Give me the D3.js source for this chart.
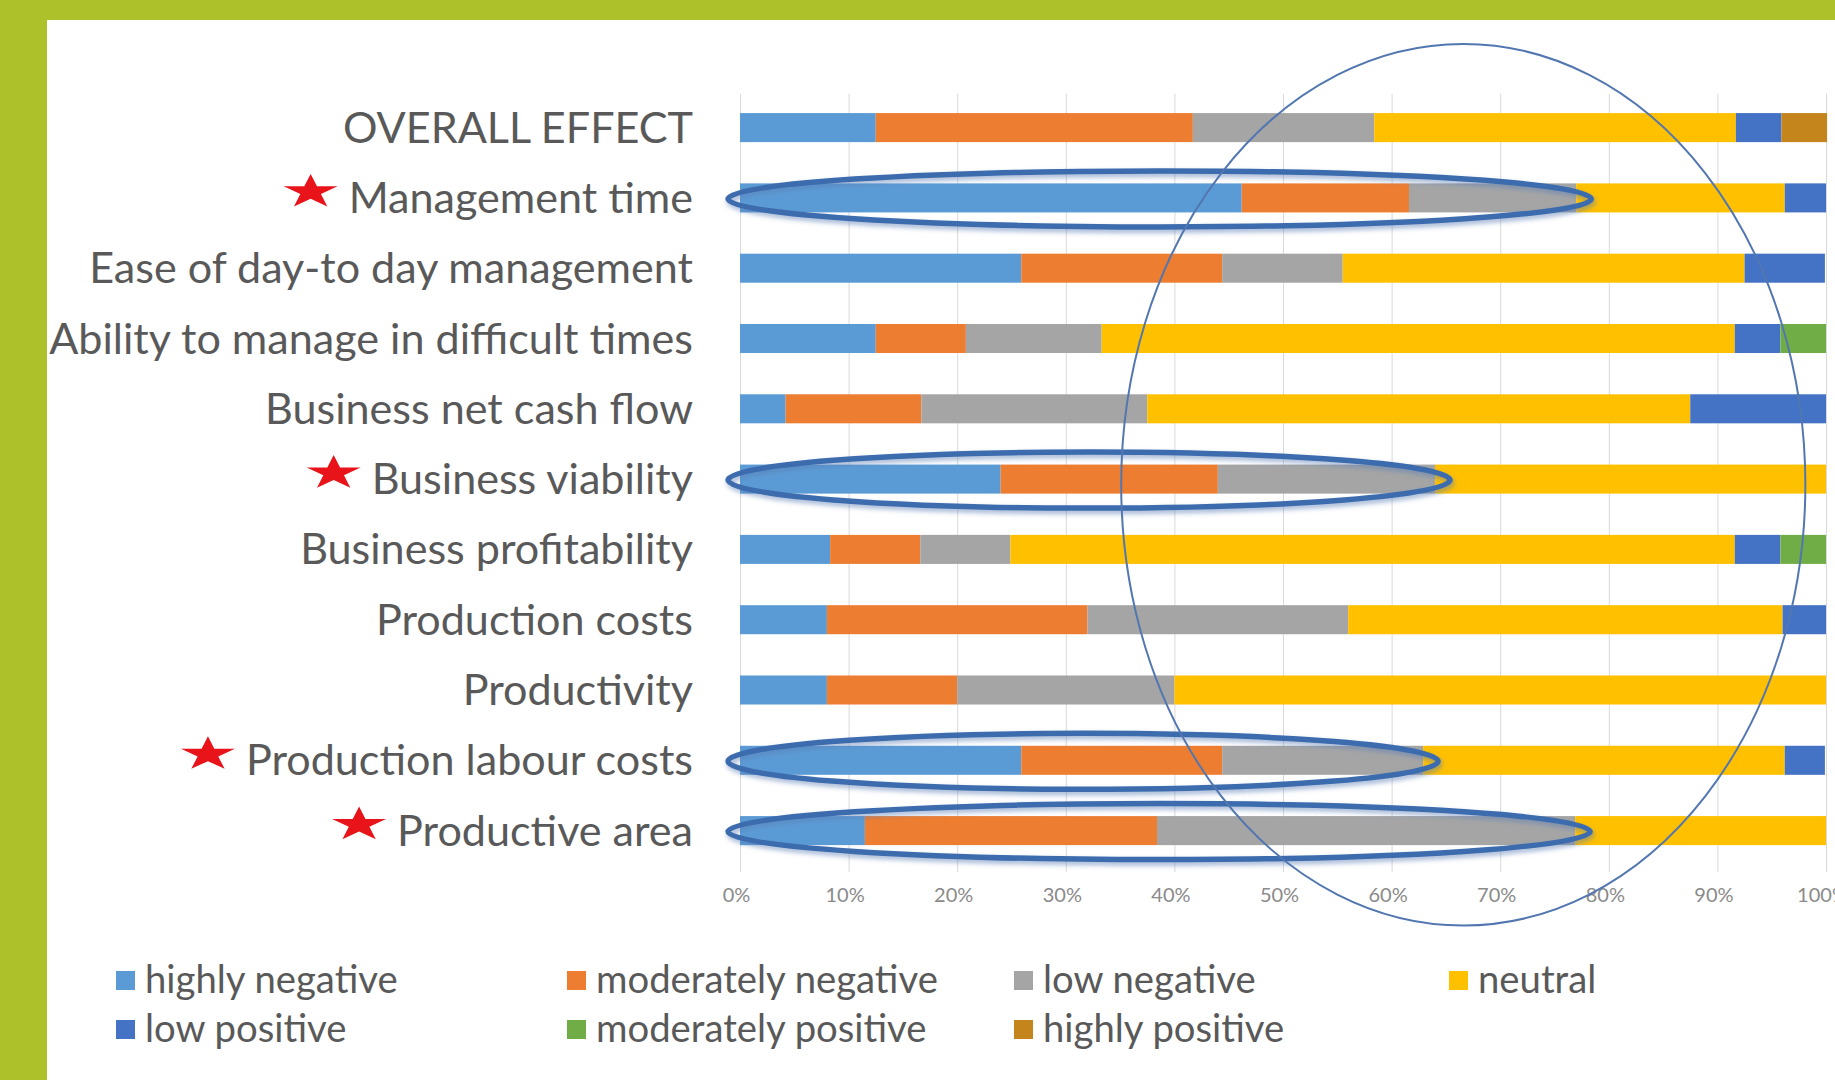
<!DOCTYPE html>
<html>
<head>
<meta charset="utf-8">
<script src="https://cdn.jsdelivr.net/npm/d3@7"></script>
<style>
html, body { margin: 0; padding: 0; background: #adc22a; }
svg { display: block; }
</style>
</head>
<body>
<svg id="chart" width="1835" height="1080"></svg>
<script>
// categories, top to bottom
var categories = ["OVERALL EFFECT", "Management time", "Ease of day-to day management",
  "Ability to manage in difficult times", "Business net cash flow", "Business viability",
  "Business profitability", "Production costs", "Productivity", "Production labour costs",
  "Productive area"];
var starred = ["Management time", "Business viability", "Production labour costs", "Productive area"];

var seriesNames = ["highly negative", "moderately negative", "low negative", "neutral",
  "low positive", "moderately positive", "highly positive"];
var seriesColors = ["#5b9bd5", "#ed7d31", "#a5a5a5", "#ffc000", "#4472c4", "#70ad47", "#c3851c"];

// percent of answers per category
var highlyNegative     = [12.5, 46.2, 25.9, 12.5,  4.2, 24,  8.3,  8,  8, 25.9, 11.5];
var moderatelyNegative = [29.2, 15.4, 18.5,  8.3, 12.5, 20,  8.3, 24, 12, 18.5, 26.9];
var lowNegative        = [16.7, 15.4, 11.1, 12.5, 20.8, 20,  8.3, 24, 20, 18.5, 38.5];
var neutral            = [33.3, 19.2, 37.0, 58.3, 50.0, 36, 66.7, 40, 60, 33.3, 23.1];
var lowPositive        = [ 4.2,  3.8,  7.4,  4.2, 12.5,  0,  4.2,  4,  0,  3.7,  0];
var moderatelyPositive = [ 0,    0,    0,    4.2,  0,    0,  4.2,  0,  0,  0,    0];
var highlyPositive     = [ 4.2,  0,    0,    0,    0,    0,  0,    0,  0,  0,    0];

var tickValues = [0, 10, 20, 30, 40, 50, 60, 70, 80, 90, 100];

// the big ring drawn over the positive side (percent / row units)
var ringCenterPct = 66.6, ringHalfPct = 31.5;
var ringCenterRow = 5.08, ringHalfRows = 6.27;

var allSeries = [highlyNegative, moderatelyNegative, lowNegative, neutral,
  lowPositive, moderatelyPositive, highlyPositive];

var table = categories.map(function(c, i) {
  var row = {cat: c};
  seriesNames.forEach(function(s, j) { row[s] = allSeries[j][i]; });
  return row;
});

var svg = d3.select("#chart");
var font = "Lato, 'Open Sans', sans-serif";

// white panel
svg.append("rect").attr("x", 47).attr("y", 20).attr("width", 1835 - 47).attr("height", 1080 - 20)
  .attr("fill", "#ffffff");

var defs = svg.append("defs");
var f = defs.append("filter").attr("id", "glow").attr("x", "-10%").attr("y", "-50%")
  .attr("width", "120%").attr("height", "200%");
f.append("feDropShadow").attr("dx", 1.5).attr("dy", 3).attr("stdDeviation", 2.4)
  .attr("flood-color", "#5a7fb5").attr("flood-opacity", 0.6);

var x = d3.scaleLinear().domain([0, 100]).range([740, 1826]);
var y = d3.scaleBand().domain(categories).range([92.45, 865.75])
  .paddingInner(0.587).paddingOuter(0.2935);

// gridlines + tick labels
var gridTop = 94, gridBottom = 872;
var axis = svg.append("g").attr("transform", "translate(0," + gridBottom + ")")
  .call(d3.axisBottom(x).tickValues(tickValues).tickSize(-(gridBottom - gridTop))
    .tickFormat(function(d) { return d + "%"; }));
axis.select(".domain").remove();
axis.selectAll(".tick line").attr("stroke", "#d9d9d9").attr("stroke-width", 1);
axis.selectAll(".tick text").attr("y", 23).attr("dy", "0.35em").attr("x", -4)
  .attr("fill", "#8a8a8a").style("font-family", font).style("font-size", "20px");

// stacked bars
var stack = d3.stack().keys(seriesNames);
var layers = stack(table);

svg.append("g").selectAll("g")
  .data(layers)
  .enter().append("g")
  .attr("fill", function(d, i) { return seriesColors[i]; })
  .selectAll("rect")
  .data(function(d) { return d; })
  .enter().append("rect")
  .attr("x", function(d) { return x(d[0]); })
  .attr("y", function(d) { return y(d.data.cat); })
  .attr("width", function(d) { return Math.max(0, x(d[1]) - x(d[0])); })
  .attr("height", y.bandwidth());

// category labels
var labelRight = 693;
var labels = svg.append("g").selectAll("text")
  .data(categories)
  .enter().append("text")
  .attr("x", labelRight)
  .attr("y", function(d) { return y(d) + y.bandwidth() / 2; })
  .attr("dy", "0.35em")
  .attr("text-anchor", "end")
  .attr("fill", "#595959")
  .style("font-family", font)
  .style("font-size", "40px")
  .text(function(d) { return d; });

// fit label size to the widest label in the reference (about 644px)
var widest = 0;
labels.each(function() { widest = Math.max(widest, this.getComputedTextLength()); });
var labelSize = 40 * 644 / widest;
labels.style("font-size", labelSize + "px");

// red stars before the highlighted labels
var star = d3.symbol().type(d3.symbolStar).size(430);
labels.filter(function(d) { return starred.indexOf(d) >= 0; }).each(function(d) {
  var w = this.getComputedTextLength();
  var sx = labelRight - w - 38;
  var sy = y(d) + y.bandwidth() / 2 - 6;
  svg.append("path").attr("d", star())
    .attr("transform", "translate(" + sx + "," + sy + ") scale(1.45,0.92)")
    .attr("fill", "#e8141a");
});

// ellipses around the negative part of highlighted rows
var hl = table.filter(function(r) { return starred.indexOf(r.cat) >= 0; });
svg.append("g").selectAll("ellipse")
  .data(hl)
  .enter().append("ellipse")
  .attr("cx", function(r) {
    var neg = r["highly negative"] + r["moderately negative"] + r["low negative"];
    return ((x(0) - 12) + (x(neg) + 15)) / 2;
  })
  .attr("cy", function(r) { return y(r.cat) + y.bandwidth() / 2 + 1; })
  .attr("rx", function(r) {
    var neg = r["highly negative"] + r["moderately negative"] + r["low negative"];
    return ((x(neg) + 15) - (x(0) - 12)) / 2;
  })
  .attr("ry", 28)
  .attr("fill", "none")
  .attr("stroke", "#3c6cae")
  .attr("stroke-width", 5.5)
  .attr("filter", "url(#glow)");

// big thin ring
var step = y.step();
var firstCenter = y(categories[0]) + y.bandwidth() / 2;
svg.append("ellipse")
  .attr("cx", x(ringCenterPct))
  .attr("cy", firstCenter + ringCenterRow * step)
  .attr("rx", x(ringHalfPct) - x(0))
  .attr("ry", ringHalfRows * step)
  .attr("fill", "none")
  .attr("stroke", "#5277b0")
  .attr("stroke-width", 2);

// legend
var legendCols = [115, 566, 1013, 1448];
var legendRows = [980, 1029];
var legend = svg.append("g").selectAll("g")
  .data(seriesNames)
  .enter().append("g")
  .attr("transform", function(d, i) {
    var col = i < 4 ? i : i - 4;
    var row = i < 4 ? 0 : 1;
    return "translate(" + legendCols[col] + "," + legendRows[row] + ")";
  });
legend.append("rect").attr("x", 1).attr("y", -9).attr("width", 19).attr("height", 19)
  .attr("fill", function(d, i) { return seriesColors[i]; });
var legendText = legend.append("text").attr("x", 30).attr("dy", "0.35em")
  .attr("fill", "#595959").style("font-family", font).style("font-size", "36px")
  .text(function(d) { return d; });
var lw = 0;
legendText.each(function(d) { if (d == "moderately negative") lw = this.getComputedTextLength(); });
legendText.style("font-size", (36 * 342 / lw) + "px");
</script>
</body>
</html>
